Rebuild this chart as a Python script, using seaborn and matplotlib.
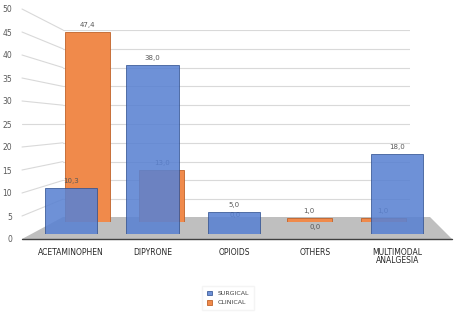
import pandas as pd
import matplotlib
matplotlib.use('Agg')
import matplotlib.pyplot as plt
import seaborn as sns
from matplotlib.lines import Line2D
from matplotlib.patches import Polygon

# Data
categories = ['ACETAMINOPHEN', 'DIPYRONE', 'OPIOIDS', 'OTHERS', 'MULTIMODAL\nANALGESIA']
surgical = [10.3, 38.0, 5.0, 0.0, 18.0]
clinical = [47.4, 13.0, 0.0, 1.0, 1.0]
y_ticks = list(range(0, 55, 5))

W, H = 456, 312
BLUE = '#5a82d2'
ORANGE = '#f08a4b'


def box(x0, y0, x1, y1):
    # pixel box (top-left origin) -> figure fraction rect
    return [x0 / W, 1 - y1 / H, (x1 - x0) / W, (y1 - y0) / H]


def fpx(x, y):
    return (x / W, 1 - y / H)


df_s = pd.DataFrame({'Category': categories, 'Value': surgical, 'Group': 'SURGICAL'})
df_c = pd.DataFrame({'Category': categories, 'Value': clinical, 'Group': 'CLINICAL'})

sns.set_style('white')
plt.rcParams['font.family'] = ['DejaVu Sans']
fig = plt.figure(figsize=(W / 100, H / 100), dpi=100)

# back wall with gridlines
ax_wall = fig.add_axes(box(63, 30, 410, 218))
ax_wall.set_xlim(0, 1)
ax_wall.set_ylim(0, 50)
for v in y_ticks[1:]:
    ax_wall.axhline(v, color='#d9d9d9', lw=0.8)
ax_wall.axis('off')
ax_wall.set_zorder(0)

# left tick scale (front plane)
ax_tick = fig.add_axes(box(22, 9, 63, 239))
ax_tick.set_xlim(0, 1)
ax_tick.set_ylim(0, 50)
ax_tick.set_yticks(y_ticks)
ax_tick.set_xticks([])
ax_tick.tick_params(axis='y', length=0, pad=7, labelsize=5.5, labelcolor='#595959')
for s in ax_tick.spines.values():
    s.set_visible(False)
ax_tick.patch.set_visible(False)
ax_tick.set_zorder(0)

# diagonal lines joining tick labels to the wall
fig.canvas.draw()
for v in y_ticks[1:]:
    a = fig.transFigure.inverted().transform(ax_tick.transData.transform((0, v)))
    b = fig.transFigure.inverted().transform(ax_wall.transData.transform((0, v)))
    fig.add_artist(Line2D([a[0], b[0]], [a[1], b[1]], transform=fig.transFigure,
                          color='#d9d9d9', lw=0.8, zorder=0.5))

# floor
floor = Polygon([fpx(22, 239), fpx(452, 239), fpx(430, 217), fpx(63, 217)],
                closed=True, transform=fig.transFigure, facecolor='#bfbfbf',
                edgecolor='none', zorder=1)
fig.add_artist(floor)
fig.add_artist(Line2D([22 / W, 452 / W], [1 - 239 / H, 1 - 239 / H], transform=fig.transFigure,
                      color='#404040', lw=1.0, zorder=1.1))

# back row: clinical
ax_back = fig.add_axes(box(51, 22, 420, 222))
sns.barplot(data=df_c, x='Category', y='Value', hue='Group', palette=[ORANGE],
            width=0.61, ax=ax_back, legend=False, saturation=1,
            edgecolor='#c0622a', linewidth=0.6)
ax_back.set_xlim(-0.5, 4.5)
ax_back.set_ylim(0, 50)
ax_back.axis('off')
ax_back.set_zorder(2)
for i, v in enumerate(clinical):
    ax_back.annotate(f'{v:.1f}'.replace('.', ','), (i, v), xytext=(0, 3),
                     textcoords='offset points', ha='center', va='bottom',
                     fontsize=5, color='#595959')

# front row: surgical
ax_front = fig.add_axes(box(30, 12, 438, 234))
sns.barplot(data=df_s, x='Category', y='Value', hue='Group', palette=[BLUE],
            width=0.64, ax=ax_front, legend=False, saturation=1, alpha=0.88,
            edgecolor='#2f4f8f', linewidth=0.6)
ax_front.set_xlim(-0.5, 4.5)
ax_front.set_ylim(0, 50)
ax_front.set_yticks([])
ax_front.set_xlabel('')
ax_front.set_ylabel('')
ax_front.tick_params(axis='x', length=0, pad=10, labelsize=5.5, labelcolor='#262626')
for s in ax_front.spines.values():
    s.set_visible(False)
ax_front.patch.set_visible(False)
ax_front.set_zorder(3)
for lab in ax_front.get_xticklabels():
    lab.set_linespacing(0.9)
for i, v in enumerate(surgical):
    ax_front.annotate(f'{v:.1f}'.replace('.', ','), (i, v), xytext=(0, 3),
                      textcoords='offset points', ha='center', va='bottom',
                      fontsize=5, color='#595959')

# legend
handles = [ax_front.patches[0], ax_back.patches[0]]
fig.legend(handles, ['SURGICAL', 'CLINICAL'], loc='center', bbox_to_anchor=(228 / W, 1 - 298 / H),
           fontsize=4.5, frameon=True, edgecolor='#f2f2f2', fancybox=False,
           handlelength=0.8, handleheight=0.8, labelspacing=0.6, borderpad=0.8,
           handletextpad=1.0, labelcolor='#404040')

fig.savefig('out.png', dpi=100)
